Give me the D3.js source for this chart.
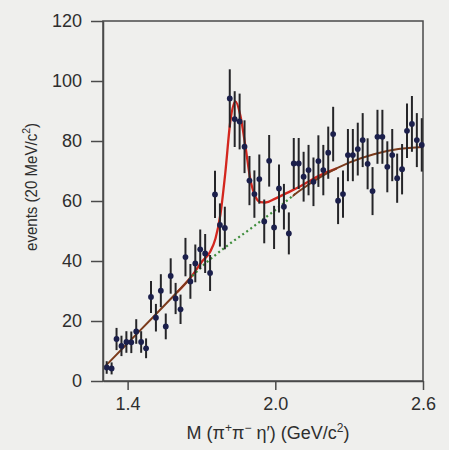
<!DOCTYPE html>
<html>
<head>
<meta charset="utf-8">
<script src="https://cdn.jsdelivr.net/npm/d3@7"></script>
<style>
  body { margin: 0; background: #efefed; }
  svg { display: block; }
  text { font-family: "Liberation Sans", Arial, sans-serif; fill: #2e2e2e; }
</style>
</head>
<body>
<svg id="chart" width="449" height="450"></svg>
<script>
// bin centres (GeV/c^2)
var mass = [1.315, 1.335, 1.355, 1.375, 1.395, 1.415, 1.435, 1.455, 1.475, 1.495,
    1.515, 1.535, 1.555, 1.575, 1.595, 1.615, 1.635, 1.655, 1.675, 1.695,
    1.715, 1.735, 1.755, 1.775, 1.795, 1.815, 1.835, 1.855, 1.875, 1.895,
    1.915, 1.935, 1.955, 1.975, 1.995, 2.015, 2.035, 2.055, 2.075, 2.095,
    2.115, 2.135, 2.155, 2.175, 2.195, 2.215, 2.235, 2.255, 2.275, 2.295,
    2.315, 2.335, 2.355, 2.375, 2.395, 2.415, 2.435, 2.455, 2.475, 2.495,
    2.515, 2.535, 2.555, 2.575, 2.595];

var events = [4.5, 4.2, 14, 11.7, 13, 12.9, 16.5, 13, 10.9, 28,
    21.1, 30.1, 18.2, 35, 27.5, 23.9, 41.3, 33.2, 39.2, 43.9,
    42.5, 36, 62.2, 52, 51, 94.2, 87.3, 86.5, 78.1, 66.8,
    62.3, 67.3, 53.2, 73.4, 51.2, 64.2, 58.1, 49.2, 72.5, 72.5,
    68.1, 70.3, 66.4, 73.3, 70.3, 76.1, 82.3, 60.1, 62.3, 75.3,
    75.3, 77.3, 80.3, 72.4, 63.3, 81.4, 81.4, 71.4, 75.3, 67.6,
    70.6, 83.4, 85.7, 80.3, 78.7];

var errors = [2.1, 2.0, 3.7, 3.4, 3.6, 3.6, 4.1, 3.6, 3.3, 5.3,
    4.6, 5.5, 4.3, 5.9, 5.2, 4.9, 6.4, 5.8, 6.3, 6.6,
    6.5, 6.0, 7.9, 7.2, 7.1, 9.7, 9.3, 9.3, 8.8, 8.2,
    7.9, 8.2, 7.3, 8.6, 7.2, 8.0, 7.6, 7.0, 8.5, 8.5,
    8.3, 8.4, 8.1, 8.6, 8.4, 8.7, 9.1, 7.8, 7.9, 8.7,
    8.7, 8.8, 9.0, 8.5, 8.0, 9.0, 9.0, 8.5, 8.7, 8.2,
    8.4, 9.1, 9.3, 9.0, 8.9];

// background curve
var bgMass = [1.31, 1.40, 1.50, 1.60, 1.70, 1.80, 1.90, 2.00, 2.10, 2.20, 2.30, 2.40, 2.50, 2.60];
var bgVal = [5, 12.6, 21, 29.5, 38, 44.8, 50.8, 57, 63.5, 68.8, 72.8, 75.6, 77.3, 78];

// total fit (background + peak) around the resonance
var fitMass = [1.60, 1.66, 1.70, 1.736, 1.757, 1.777, 1.797, 1.818, 1.838, 1.858, 1.879,
    1.899, 1.919, 1.94, 1.96, 2.00, 2.05, 2.10, 2.15, 2.20, 2.25];
var fitVal = [29.5, 34.9, 39.6, 43.2, 47.5, 55.5, 69.5, 87, 93.2, 88.5, 78,
    67, 61.5, 59.6, 59.5, 60.8, 62.8, 64.8, 67.2, 69.3, 70.9];

var xTicks = [1.4, 2.0, 2.6];
var yTicks = [0, 20, 40, 60, 80, 100, 120];

var svg = d3.select("#chart"),
    plotL = 103, plotR = 423, plotT = 21, plotB = 381;

var x = d3.scaleLinear().domain([1.3, 2.6]).range([plotL, plotR]);
var y = d3.scaleLinear().domain([0, 120]).range([plotB, plotT]);

var bg = bgMass.map(function(m, i) { return [m, bgVal[i]]; });
var fit = fitMass.map(function(m, i) { return [m, fitVal[i]]; });

var line = d3.line()
    .x(function(d) { return x(d[0]); })
    .y(function(d) { return y(d[1]); })
    .curve(d3.curveMonotoneX);

var defs = svg.append("defs");
defs.append("clipPath").attr("id", "outside")
    .selectAll("rect")
    .data([[1.2, 1.65], [2.07, 2.7]])
    .enter().append("rect")
    .attr("x", function(d) { return x(d[0]); })
    .attr("width", function(d) { return x(d[1]) - x(d[0]); })
    .attr("y", 0).attr("height", 450);
defs.append("clipPath").attr("id", "inside")
    .append("rect")
    .attr("x", x(1.64)).attr("width", x(2.08) - x(1.64))
    .attr("y", 0).attr("height", 450);

// frame
svg.append("rect")
    .attr("x", plotL).attr("y", plotT)
    .attr("width", plotR - plotL).attr("height", plotB - plotT)
    .attr("fill", "none").attr("stroke", "#4a4a4a").attr("stroke-width", 1.5);

// curves
svg.append("path").datum(fit).attr("d", line)
    .attr("fill", "none").attr("stroke", "#d3261e").attr("stroke-width", 2.3);

svg.append("path").datum(bg).attr("d", line)
    .attr("clip-path", "url(#inside)")
    .attr("fill", "none").attr("stroke", "#3c8c3a").attr("stroke-width", 2.2)
    .attr("stroke-dasharray", "2,3");

svg.append("path").datum(bg).attr("d", line)
    .attr("clip-path", "url(#outside)")
    .attr("fill", "none").attr("stroke", "#7b3b1c").attr("stroke-width", 2);

// data points
var pts = svg.append("g");
mass.forEach(function(m, i) {
    pts.append("line")
        .attr("x1", x(m)).attr("x2", x(m))
        .attr("y1", y(events[i] - errors[i])).attr("y2", y(events[i] + errors[i]))
        .attr("stroke", "#252528").attr("stroke-width", 2);
    pts.append("circle")
        .attr("cx", x(m)).attr("cy", y(events[i])).attr("r", 2.9)
        .attr("fill", "#1b1f4b");
});

// axes
var xAxis = svg.append("g")
    .attr("transform", "translate(0," + plotB + ")")
    .call(d3.axisBottom(x).tickValues(xTicks).tickFormat(d3.format(".1f"))
        .tickSize(9).tickPadding(7).tickSizeOuter(0));
var yAxis = svg.append("g")
    .attr("transform", "translate(" + plotL + ",0)")
    .call(d3.axisLeft(y).tickValues(yTicks).tickSize(12).tickPadding(9).tickSizeOuter(0));

[xAxis, yAxis].forEach(function(a) {
    a.select(".domain").attr("stroke", "#4a4a4a").attr("stroke-width", 1.5);
    a.selectAll(".tick line").attr("stroke", "#4a4a4a").attr("stroke-width", 1.5);
    a.selectAll(".tick text").attr("font-size", 18).attr("fill", "#2e2e2e")
        .attr("font-family", "Liberation Sans, Arial, sans-serif");
});

// axis titles
var xt = svg.append("text")
    .attr("x", 268).attr("y", 439)
    .attr("text-anchor", "middle").attr("font-size", 18);
xt.append("tspan").text("M (\u03c0");
xt.append("tspan").text("+").attr("font-size", 12).attr("dy", -7);
xt.append("tspan").text("\u03c0").attr("dy", 7);
xt.append("tspan").text("\u2212").attr("font-size", 12).attr("dy", -7);
xt.append("tspan").text(" \u03b7\u2032) (GeV/c").attr("dy", 7);
xt.append("tspan").text("2").attr("font-size", 12).attr("dy", -7);
xt.append("tspan").text(")").attr("dy", 7);

var yt = svg.append("text")
    .attr("transform", "translate(37,187) rotate(-90)")
    .attr("text-anchor", "middle").attr("font-size", 16)
    .attr("textLength", 128).attr("lengthAdjust", "spacingAndGlyphs");
yt.append("tspan").text("events (20 MeV/c");
yt.append("tspan").text("2").attr("font-size", 11).attr("dy", -7);
yt.append("tspan").text(")").attr("dy", 7);
</script>
</body>
</html>
